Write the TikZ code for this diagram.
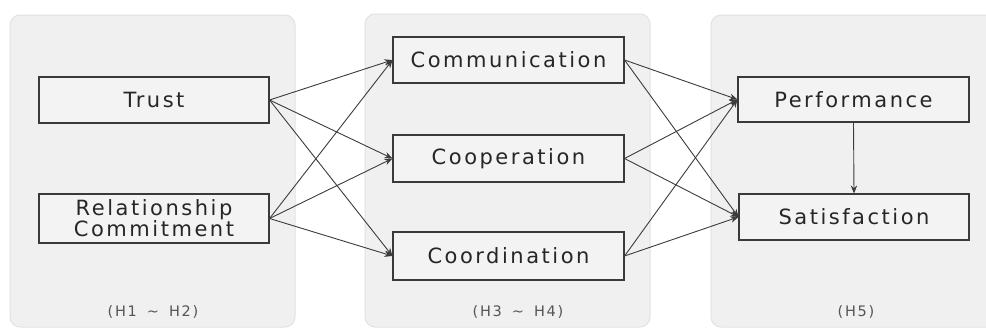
\documentclass[tikz,border=0pt]{standalone}
\usepackage{fontspec}
\setmainfont{DejaVu Sans}[LetterSpace=12]
\usetikzlibrary{arrows.meta}
\definecolor{panelfill}{HTML}{F0F0F0}
\definecolor{panelline}{HTML}{E2E2E2}
\definecolor{boxfill}{HTML}{F3F3F3}
\definecolor{boxline}{HTML}{3A3A3A}
\definecolor{arrowc}{HTML}{3C3C3C}
\definecolor{hyp}{HTML}{555555}
\begin{document}
\begin{tikzpicture}[x=1pt,y=-1pt,
  panel/.style={draw=panelline, fill=panelfill, rounded corners=10pt, line width=1pt},
  varbox/.style={draw=boxline, fill=boxfill, line width=1.1pt, inner sep=0pt,
    minimum width=230pt, align=center, font=\fontsize{21}{18}\selectfont, text=black!85},
  hyplabel/.style={font=\fontsize{14.5}{16}\selectfont, text=hyp},
  link/.style={draw=arrowc, line width=0.9pt, -{Stealth[length=8pt,width=6.5pt]}}]
\useasboundingbox (0,0) rectangle (986,332);
\clip (0,0) rectangle (986,332);
\fill[white] (0,0) rectangle (986,332);
\draw[panel] (10,15) rectangle (295,327);
\draw[panel] (365,14) rectangle (650,327);
\draw[panel] (711,15) rectangle (1010,327);

\node[varbox, minimum height=46pt] (trust) at (154,100) {Trust};
\node[varbox, minimum height=49pt] (rel) at (154,218.5) {Relationship\\Commitment};
\node[varbox, minimum height=46pt, minimum width=231pt] (comm) at (508.5,60) {Communication};
\node[varbox, minimum height=47pt, minimum width=231pt] (coop) at (508.5,158.5) {Cooperation};
\node[varbox, minimum height=48pt, minimum width=231pt] (coord) at (508.5,256) {Coordination};
\node[varbox, minimum height=45pt, minimum width=231pt] (perf) at (853.5,99.5) {Performance};
\node[varbox, minimum height=46pt] (sat) at (854,217) {Satisfaction};

\node[hyplabel] (h12) at (153,312) {(H1\hspace{10pt}\textasciitilde\hspace{10pt}H2)};
\node[hyplabel] (h34) at (518,312) {(H3\hspace{10pt}\textasciitilde\hspace{10pt}H4)};
\node[hyplabel] (h5) at (856,312) {(H5)};

\foreach \s in {trust,rel}{
  \foreach \t in {comm,coop,coord}{
    \draw[link] (\s.east) -- (\t.west);
  }
}
\foreach \s in {comm,coop,coord}{
  \foreach \t in {perf,sat}{
    \draw[link] (\s.east) -- (\t.west);
  }
}
\draw[link] (perf.south) -- (sat.north);
\end{tikzpicture}
\end{document}
